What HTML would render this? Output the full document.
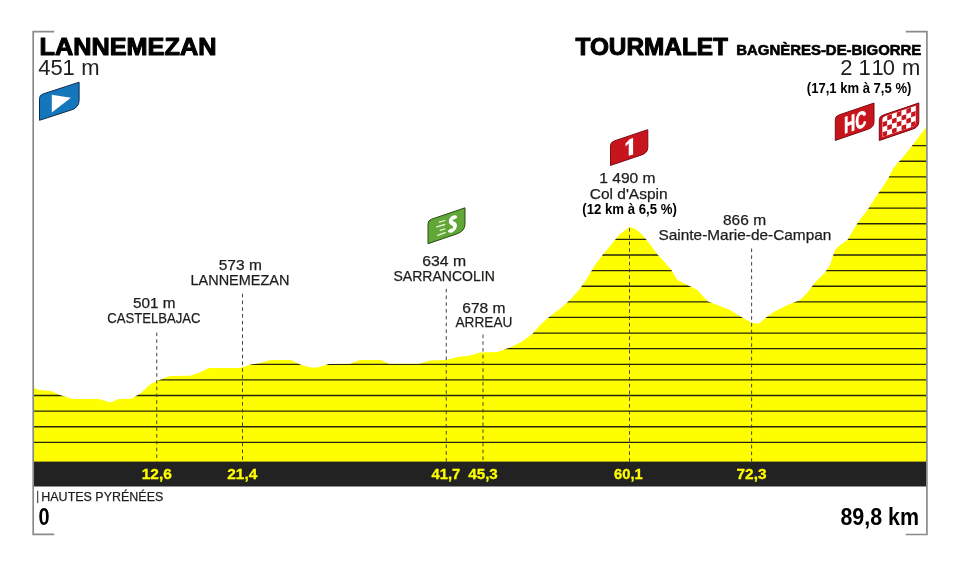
<!DOCTYPE html>
<html><head><meta charset="utf-8"><title>Stage profile</title>
<style>html,body{margin:0;padding:0;background:#fff;}svg{display:block;will-change:transform;}text{font-family:"Liberation Sans", sans-serif;}</style>
</head><body>
<svg width="960" height="576" viewBox="0 0 960 576">
<rect width="960" height="576" fill="#fff"/>
<defs><clipPath id="pc"><path d="M33.50,462.60 L33.50,387.50 L38.75,390.00 L45.00,390.50 L51.00,391.00 L60.00,395.00 L72.50,399.00 L98.75,399.00 L110.50,402.50 L118.75,399.00 L131.00,398.75 L140.00,393.75 L151.00,383.75 L162.50,378.75 L170.00,376.00 L190.00,375.75 L200.00,372.50 L208.75,368.00 L240.00,368.00 L251.00,364.50 L260.00,363.00 L271.00,360.00 L291.00,360.00 L300.00,364.50 L311.00,367.50 L317.50,367.50 L329.00,364.00 L350.00,363.75 L360.00,360.00 L381.00,360.00 L389.00,363.75 L419.00,363.75 L430.00,360.50 L446.00,360.00 L457.50,357.00 L470.00,355.50 L480.00,352.50 L497.50,352.00 L510.00,347.50 L522.50,341.25 L532.50,333.75 L540.00,325.00 L550.00,316.25 L560.00,308.75 L570.00,300.00 L580.00,288.75 L587.50,277.50 L595.00,265.00 L602.50,255.00 L610.00,246.00 L620.00,234.00 L629.50,227.00 L635.00,228.75 L640.00,232.50 L646.25,239.50 L657.50,254.50 L665.00,262.50 L671.25,270.00 L677.50,280.00 L687.50,285.00 L697.50,290.00 L707.50,301.25 L717.50,305.00 L730.00,310.00 L740.00,316.25 L751.00,322.50 L758.75,323.75 L766.00,317.50 L775.00,311.25 L787.50,305.00 L800.00,300.00 L807.50,292.50 L815.00,282.50 L825.00,272.50 L830.00,265.00 L835.00,250.00 L840.00,245.00 L847.50,240.00 L852.50,231.25 L858.75,221.25 L867.50,210.00 L873.75,200.00 L883.30,186.00 L888.30,178.30 L893.30,168.30 L903.30,156.70 L913.30,144.20 L926.50,126.80 L926.50,462.60 Z"/></clipPath></defs>
<path d="M33.50,462.60 L33.50,387.50 L38.75,390.00 L45.00,390.50 L51.00,391.00 L60.00,395.00 L72.50,399.00 L98.75,399.00 L110.50,402.50 L118.75,399.00 L131.00,398.75 L140.00,393.75 L151.00,383.75 L162.50,378.75 L170.00,376.00 L190.00,375.75 L200.00,372.50 L208.75,368.00 L240.00,368.00 L251.00,364.50 L260.00,363.00 L271.00,360.00 L291.00,360.00 L300.00,364.50 L311.00,367.50 L317.50,367.50 L329.00,364.00 L350.00,363.75 L360.00,360.00 L381.00,360.00 L389.00,363.75 L419.00,363.75 L430.00,360.50 L446.00,360.00 L457.50,357.00 L470.00,355.50 L480.00,352.50 L497.50,352.00 L510.00,347.50 L522.50,341.25 L532.50,333.75 L540.00,325.00 L550.00,316.25 L560.00,308.75 L570.00,300.00 L580.00,288.75 L587.50,277.50 L595.00,265.00 L602.50,255.00 L610.00,246.00 L620.00,234.00 L629.50,227.00 L635.00,228.75 L640.00,232.50 L646.25,239.50 L657.50,254.50 L665.00,262.50 L671.25,270.00 L677.50,280.00 L687.50,285.00 L697.50,290.00 L707.50,301.25 L717.50,305.00 L730.00,310.00 L740.00,316.25 L751.00,322.50 L758.75,323.75 L766.00,317.50 L775.00,311.25 L787.50,305.00 L800.00,300.00 L807.50,292.50 L815.00,282.50 L825.00,272.50 L830.00,265.00 L835.00,250.00 L840.00,245.00 L847.50,240.00 L852.50,231.25 L858.75,221.25 L867.50,210.00 L873.75,200.00 L883.30,186.00 L888.30,178.30 L893.30,168.30 L903.30,156.70 L913.30,144.20 L926.50,126.80 L926.50,462.60 Z" fill="#fefe00"/>
<g clip-path="url(#pc)" stroke="#26260f" stroke-width="1.35">
<line x1="30" x2="930" y1="442.40" y2="442.40"/>
<line x1="30" x2="930" y1="426.78" y2="426.78"/>
<line x1="30" x2="930" y1="411.16" y2="411.16"/>
<line x1="30" x2="930" y1="395.54" y2="395.54"/>
<line x1="30" x2="930" y1="379.92" y2="379.92"/>
<line x1="30" x2="930" y1="364.30" y2="364.30"/>
<line x1="30" x2="930" y1="348.68" y2="348.68"/>
<line x1="30" x2="930" y1="333.06" y2="333.06"/>
<line x1="30" x2="930" y1="317.44" y2="317.44"/>
<line x1="30" x2="930" y1="301.82" y2="301.82"/>
<line x1="30" x2="930" y1="286.20" y2="286.20"/>
<line x1="30" x2="930" y1="270.58" y2="270.58"/>
<line x1="30" x2="930" y1="254.96" y2="254.96"/>
<line x1="30" x2="930" y1="239.34" y2="239.34"/>
<line x1="30" x2="930" y1="223.72" y2="223.72"/>
<line x1="30" x2="930" y1="208.10" y2="208.10"/>
<line x1="30" x2="930" y1="192.48" y2="192.48"/>
<line x1="30" x2="930" y1="176.86" y2="176.86"/>
<line x1="30" x2="930" y1="161.24" y2="161.24"/>
<line x1="30" x2="930" y1="145.62" y2="145.62"/>
</g>
<g stroke="#3a3a3a" stroke-width="0.95" stroke-dasharray="3.6 3.17">
<line x1="156.75" x2="156.75" y1="332.50" y2="461.60"/>
<line x1="242.50" x2="242.50" y1="293.75" y2="461.60"/>
<line x1="446.25" x2="446.25" y1="288.75" y2="461.60"/>
<line x1="483.00" x2="483.00" y1="334.50" y2="461.60"/>
<line x1="629.50" x2="629.50" y1="228.00" y2="461.60"/>
<line x1="751.60" x2="751.60" y1="248.50" y2="461.60"/>
</g>
<rect x="33.50" y="461.60" width="893.00" height="24.90" fill="#222222"/>
<g fill="none" stroke="#8a8a8a" stroke-width="1.7">
<path d="M54.2,31.6 H33.2 V534.4 H54.2"/>
<path d="M905.7,31.6 H926.9 V534.5 H905.7"/>
</g>
<text x="39.54" y="55.00" font-size="23.20" font-weight="bold" fill="#000" textLength="176.89" lengthAdjust="spacingAndGlyphs" stroke="#000" stroke-width="1.00" stroke-linejoin="round" >LANNEMEZAN</text>
<text x="38.2 50.4 62.5 81.3" y="75.1" font-size="22" fill="#1d1d1b">451m</text>
<text x="575.44" y="55.00" font-size="23.20" font-weight="bold" fill="#000" textLength="152.49" lengthAdjust="spacingAndGlyphs" stroke="#000" stroke-width="1.00" stroke-linejoin="round" >TOURMALET</text>
<text x="736.27" y="55.00" font-size="14.60" font-weight="bold" fill="#000" textLength="185.01" lengthAdjust="spacingAndGlyphs" stroke="#000" stroke-width="0.60" stroke-linejoin="round" >BAGNÈRES-DE-BIGORRE</text>
<text x="840.3 858.4 871.6 882.8 902.1" y="75.1" font-size="22" fill="#1d1d1b">2110m</text>
<text x="806.79" y="92.80" font-size="14.20" font-weight="bold" fill="#000" textLength="104.58" lengthAdjust="spacingAndGlyphs"  >(17,1 km à 7,5 %)</text>
<text x="133.03" y="308.10" font-size="14.30" font-weight="normal" fill="#1d1d1b" textLength="42.54" lengthAdjust="spacingAndGlyphs" stroke="#1d1d1b" stroke-width="0.25" stroke-linejoin="round" >501 m</text>
<text x="107.25" y="322.60" font-size="15.00" font-weight="normal" fill="#1d1d1b" textLength="93.35" lengthAdjust="spacingAndGlyphs" stroke="#1d1d1b" stroke-width="0.25" stroke-linejoin="round" >CASTELBAJAC</text>
<text x="218.78" y="270.10" font-size="14.30" font-weight="normal" fill="#1d1d1b" textLength="43.04" lengthAdjust="spacingAndGlyphs" stroke="#1d1d1b" stroke-width="0.25" stroke-linejoin="round" >573 m</text>
<text x="190.50" y="284.60" font-size="15.00" font-weight="normal" fill="#1d1d1b" textLength="98.85" lengthAdjust="spacingAndGlyphs" stroke="#1d1d1b" stroke-width="0.25" stroke-linejoin="round" >LANNEMEZAN</text>
<text x="422.29" y="265.60" font-size="14.30" font-weight="normal" fill="#1d1d1b" textLength="43.79" lengthAdjust="spacingAndGlyphs" stroke="#1d1d1b" stroke-width="0.25" stroke-linejoin="round" >634 m</text>
<text x="393.50" y="280.60" font-size="15.00" font-weight="normal" fill="#1d1d1b" textLength="101.35" lengthAdjust="spacingAndGlyphs" stroke="#1d1d1b" stroke-width="0.25" stroke-linejoin="round" >SARRANCOLIN</text>
<text x="462.29" y="312.60" font-size="14.30" font-weight="normal" fill="#1d1d1b" textLength="43.29" lengthAdjust="spacingAndGlyphs" stroke="#1d1d1b" stroke-width="0.25" stroke-linejoin="round" >678 m</text>
<text x="455.50" y="327.10" font-size="15.00" font-weight="normal" fill="#1d1d1b" textLength="56.85" lengthAdjust="spacingAndGlyphs" stroke="#1d1d1b" stroke-width="0.25" stroke-linejoin="round" >ARREAU</text>
<text x="599.28" y="183.10" font-size="14.30" font-weight="normal" fill="#1d1d1b" textLength="56.29" lengthAdjust="spacingAndGlyphs" stroke="#1d1d1b" stroke-width="0.25" stroke-linejoin="round" >1 490 m</text>
<text x="589.75" y="198.85" font-size="15.00" font-weight="normal" fill="#1d1d1b" textLength="77.85" lengthAdjust="spacingAndGlyphs" stroke="#1d1d1b" stroke-width="0.25" stroke-linejoin="round" >Col d'Aspin</text>
<text x="582.29" y="213.60" font-size="14.20" font-weight="bold" fill="#000" textLength="94.53" lengthAdjust="spacingAndGlyphs"  >(12 km à 6,5 %)</text>
<text x="723.03" y="225.10" font-size="14.30" font-weight="normal" fill="#1d1d1b" textLength="43.04" lengthAdjust="spacingAndGlyphs" stroke="#1d1d1b" stroke-width="0.25" stroke-linejoin="round" >866 m</text>
<text x="658.50" y="239.60" font-size="15.00" font-weight="normal" fill="#1d1d1b" textLength="172.85" lengthAdjust="spacingAndGlyphs" stroke="#1d1d1b" stroke-width="0.25" stroke-linejoin="round" >Sainte-Marie-de-Campan</text>
<text x="141.82" y="479.40" font-size="14.60" font-weight="bold" fill="#fefe00" textLength="29.96" lengthAdjust="spacingAndGlyphs" stroke="#fefe00" stroke-width="0.30" stroke-linejoin="round" >12,6</text>
<text x="227.32" y="479.40" font-size="14.60" font-weight="bold" fill="#fefe00" textLength="29.96" lengthAdjust="spacingAndGlyphs" stroke="#fefe00" stroke-width="0.30" stroke-linejoin="round" >21,4</text>
<text x="431.57" y="479.40" font-size="14.60" font-weight="bold" fill="#fefe00" textLength="28.71" lengthAdjust="spacingAndGlyphs" stroke="#fefe00" stroke-width="0.30" stroke-linejoin="round" >41,7</text>
<text x="468.32" y="479.40" font-size="14.60" font-weight="bold" fill="#fefe00" textLength="29.46" lengthAdjust="spacingAndGlyphs" stroke="#fefe00" stroke-width="0.30" stroke-linejoin="round" >45,3</text>
<text x="614.07" y="479.40" font-size="14.60" font-weight="bold" fill="#fefe00" textLength="28.71" lengthAdjust="spacingAndGlyphs" stroke="#fefe00" stroke-width="0.30" stroke-linejoin="round" >60,1</text>
<text x="736.57" y="479.40" font-size="14.60" font-weight="bold" fill="#fefe00" textLength="29.96" lengthAdjust="spacingAndGlyphs" stroke="#fefe00" stroke-width="0.30" stroke-linejoin="round" >72,3</text>
<line x1="37.7" x2="37.7" y1="490.8" y2="503.2" stroke="#2a2a2a" stroke-width="1"/>
<text x="41.31" y="501.30" font-size="13.70" font-weight="normal" fill="#1d1d1b" textLength="121.98" lengthAdjust="spacingAndGlyphs" stroke="#1d1d1b" stroke-width="0.25" stroke-linejoin="round" >HAUTES PYRÉNÉES</text>
<text x="38.45" y="525.00" font-size="23.00" font-weight="bold" fill="#000" textLength="11.07" lengthAdjust="spacingAndGlyphs"  >0</text>
<text x="840.45" y="524.70" font-size="23.00" font-weight="bold" fill="#000" textLength="78.67" lengthAdjust="spacingAndGlyphs"  >89,8 km</text>
<path d="M39.50,98.30 Q39.50,95.10 43.15,93.91 L79.10,82.23 L79.10,100.43 Q79.10,107.43 71.11,110.03 L39.50,120.30 Z" fill="#1676bc" stroke="#0b2d4d" stroke-width="1"/>
<path d="M51.8,94.7 L70.9,97.8 L51.8,112.5 Z" fill="#fff"/>
<path d="M428.00,223.60 Q428.00,220.40 431.64,219.16 L465.00,207.82 L465.00,223.92 Q465.00,231.12 456.82,233.90 L428.00,243.70 Z" fill="#61a637" stroke="#264d10" stroke-width="1"/>
<g transform="translate(452.1,232.5) skewY(-18.8)"><path transform="skewX(-5)" d="M2.3,-12.8 C1.6,-15.2 -2.5,-15.6 -2.5,-12.3 C-2.5,-9.0 2.5,-8.9 2.5,-5.0 C2.5,-1.3 -2.0,-1.2 -2.9,-3.8" fill="none" stroke="#fff" stroke-width="3.7" stroke-linecap="butt"/></g>
<g stroke="#e6f4d6" stroke-width="1.3" stroke-linecap="round">
<line x1="439.2" y1="222.1" x2="444.8" y2="220.5"/>
<line x1="436.6" y1="226.8" x2="444.8" y2="224.5"/>
<line x1="440.1" y1="230.3" x2="444.8" y2="228.9"/>
<line x1="437.5" y1="235.3" x2="445.2" y2="232.6"/>
</g>
<path d="M610.50,145.60 Q610.50,142.20 614.37,140.90 L647.80,129.63 L647.80,147.39 Q647.80,152.83 641.61,154.91 L610.50,165.40 Z" fill="#c8141d" stroke="#7a0c12" stroke-width="1"/>
<g transform="translate(628.7,155.8) skewY(-17.5)"><path d="M0,0 H4.4 V-16.5 H1.2 L-3.2,-13.3 V-10.3 L0,-12.4 Z" fill="#fff"/></g>
<path d="M835.30,119.60 Q835.30,116.20 839.16,114.89 L874.00,103.04 L874.00,121.80 Q874.00,127.24 867.82,129.34 L835.30,140.40 Z" fill="#c8141d" stroke="#7a0c12" stroke-width="1"/>
<g transform="translate(855.3,129.9) skewY(-18.8)"><text x="0" y="0" text-anchor="middle" font-size="23.5" font-weight="bold" fill="#fff" stroke="#fff" stroke-width="0.6" transform="scale(0.66,1)">HC</text></g>
<path d="M879.30,119.80 Q879.30,116.40 883.16,115.09 L918.80,102.97 L918.80,121.63 Q918.80,127.07 912.62,129.17 L879.30,140.50 Z" fill="#c8141d" stroke="#7a0c12" stroke-width="1"/>
<defs><clipPath id="ck"><path d="M882.40,119.40 Q882.40,117.20 884.90,116.35 L915.80,105.84 L915.80,122.22 Q915.80,125.74 911.80,127.10 L882.40,137.10 Z"/></clipPath></defs>
<path d="M882.40,119.40 Q882.40,117.20 884.90,116.35 L915.80,105.84 L915.80,122.22 Q915.80,125.74 911.80,127.10 L882.40,137.10 Z" fill="#fff"/>
<g clip-path="url(#ck)"><g transform="translate(882.4,137.1) skewY(-18.8)" fill="#c8141d">
<rect x="0.10" y="-4.88" width="4.57" height="4.77"/>
<rect x="9.64" y="-4.88" width="4.57" height="4.77"/>
<rect x="19.19" y="-4.88" width="4.57" height="4.77"/>
<rect x="28.73" y="-4.88" width="4.57" height="4.77"/>
<rect x="4.87" y="-9.85" width="4.57" height="4.77"/>
<rect x="14.41" y="-9.85" width="4.57" height="4.77"/>
<rect x="23.96" y="-9.85" width="4.57" height="4.77"/>
<rect x="0.10" y="-14.82" width="4.57" height="4.77"/>
<rect x="9.64" y="-14.82" width="4.57" height="4.77"/>
<rect x="19.19" y="-14.82" width="4.57" height="4.77"/>
<rect x="28.73" y="-14.82" width="4.57" height="4.77"/>
<rect x="4.87" y="-19.80" width="4.57" height="4.77"/>
<rect x="14.41" y="-19.80" width="4.57" height="4.77"/>
<rect x="23.96" y="-19.80" width="4.57" height="4.77"/>
</g></g>
</svg></body></html>
